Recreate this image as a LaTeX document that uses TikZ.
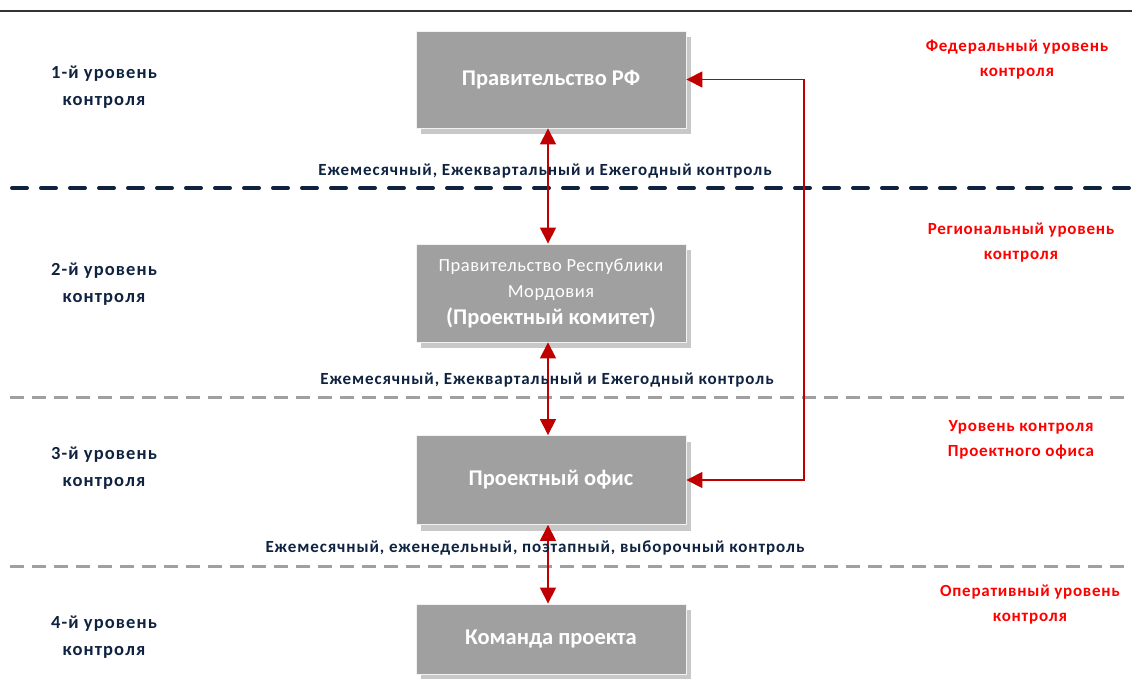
\documentclass[tikz,border=0pt]{standalone}
\usepackage{fontspec}
\setmainfont{Carlito}
\newfontfamily\trkf[LetterSpace=5.4]{Carlito}
\newfontfamily\trkl[LetterSpace=6]{Carlito}
\newfontfamily\trkr[LetterSpace=4.5]{Carlito}
\newfontfamily\trklt[LetterSpace=3]{Carlito}
\usetikzlibrary{arrows.meta,shadows}
\definecolor{boxgray}{HTML}{A0A0A0}
\definecolor{shadowgray}{HTML}{C8C8C8}
\definecolor{navy}{HTML}{0F2341}
\definecolor{arrred}{HTML}{C00000}
\definecolor{lblred}{HTML}{FF0000}
\definecolor{topline}{HTML}{333333}
\definecolor{dashgray}{HTML}{A0A0A0}
\tikzset{
  box/.style={draw=white!90!gray, line width=0.8pt, fill=boxgray, minimum width=270pt, text=white, font=\bfseries\fontsize{22.5}{26}\selectfont, align=center, inner sep=0pt,
    drop shadow={shadow xshift=5pt, shadow yshift=-6pt, fill=shadowgray, opacity=1}},
  arr/.style={draw=arrred, line width=1.2pt, {Triangle[length=16pt,width=16pt]}-{Triangle[length=16pt,width=16pt]}},
  navydash/.style={draw=navy, line width=4pt, line cap=round, dash pattern=on 15pt off 14pt},
  graydash/.style={draw=dashgray, line width=3pt, dash pattern=on 14pt off 8pt},
  lvl/.style={text=navy, font=\trkl\bfseries\fontsize{18.5}{27}\selectfont, align=center},
  freq/.style={text=navy, font=\trkf\bfseries\fontsize{17}{19}\selectfont},
  rlbl/.style={text=lblred, font=\trkr\bfseries\fontsize{17}{25}\selectfont, align=center}
}
\begin{document}
\begin{tikzpicture}[x=1pt,y=-1pt]
\useasboundingbox (0,0) rectangle (1132,679);
% top line
\draw[topline, line width=2pt] (0,11) coordinate (tl0) -- (1132,11) coordinate (tl1);
% dashed separators
\draw[navydash] (12,188) coordinate (d1a) -- (1132,188) coordinate (d1b);
\draw[graydash] (10,397) coordinate (d2a) -- (1132,397) coordinate (d2b);
\draw[graydash] (10,566) coordinate (d3a) -- (1132,566) coordinate (d3b);
% boxes
\node[box, minimum height=97pt] (b1) at (551,79.5) {Правительство РФ};
\node[box, minimum height=98pt] (b2) at (551,293) {{\trklt\mdseries\fontsize{18.5}{25}\selectfont Правительство Республики}\\ {\trklt\mdseries\fontsize{18.5}{25}\selectfont Мордовия}\\[1pt] {(Проектный комитет)}};
\node[box, minimum height=89pt] (b3) at (551,480) {Проектный офис};
\node[box, minimum height=70pt] (b4) at (551,639) {Команда проекта};
% connectors
\coordinate (ax) at (548,0);
\coordinate (rx) at (804,0);
\draw[arr] (b1.south -| ax) -- (b2.north -| ax);
\draw[arr] (b2.south -| ax) -- (b3.north -| ax);
\draw[arr] (b3.south -| ax) -- (b4.north -| ax);
\draw[arr] (b1.east) -| (b3.east -| rx) -- (b3.east);
% frequency labels
\node[freq] (f1) at (545,171) {Ежемесячный, Ежеквартальный и Ежегодный контроль};
\node[freq] (f2) at (547,380) {Ежемесячный, Ежеквартальный и Ежегодный контроль};
\node[freq] (f3) at (535,548) {Ежемесячный, еженедельный, поэтапный, выборочный контроль};
% left level labels
\node[lvl] (l1) at (104,87.5) {1-й уровень\\контроля};
\node[lvl] (l2) at (104,284.5) {2-й уровень\\контроля};
\node[lvl] (l3) at (104,468.5) {3-й уровень\\контроля};
\node[lvl] (l4) at (104,637.5) {4-й уровень\\контроля};
% right red labels
\node[rlbl] (r1) at (1017,59.5) {Федеральный уровень\\контроля};
\node[rlbl] (r2) at (1021,242.5) {Региональный уровень\\контроля};
\node[rlbl] (r3) at (1021,440) {Уровень контроля\\Проектного офиса};
\node[rlbl] (r4) at (1030,604.5) {Оперативный уровень\\контроля};
\end{tikzpicture}
\end{document}
